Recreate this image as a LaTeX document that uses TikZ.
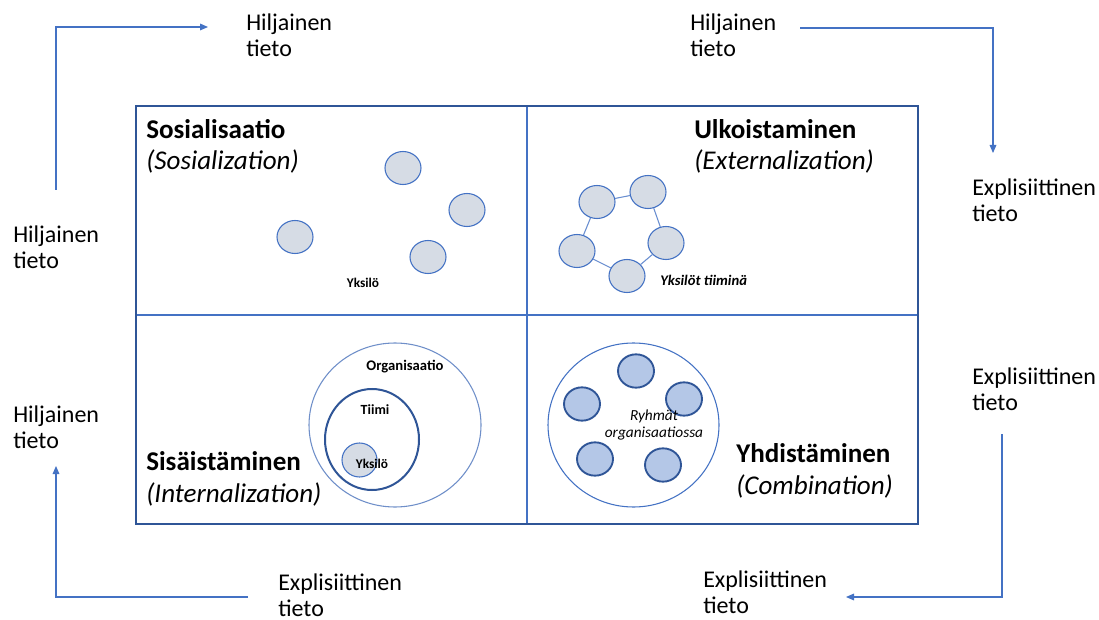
\documentclass[tikz,border=0pt]{standalone}
\usepackage{fontspec}
\setmainfont{Carlito}
\usetikzlibrary{arrows.meta,shapes.geometric}
\definecolor{frameblue}{HTML}{2F5597}
\definecolor{lineblue}{HTML}{4472C4}
\definecolor{paleline}{HTML}{6F8FC9}
\definecolor{greyfill}{HTML}{D6DCE5}
\definecolor{bluefill}{HTML}{B4C7E7}
\begin{document}
% two-line nodes are placed by the baseline of their last line
\begin{tikzpicture}[x=0.75pt,y=-0.75pt,
  flowlabel/.style={anchor=base west, align=left, inner sep=0pt,
    font=\fontsize{18}{19.5}\selectfont},
  quadtitle/.style={anchor=base west, align=left, inner sep=0pt,
    font=\fontsize{20.3}{23.5}\selectfont},
  flow/.style={draw=lineblue, line width=0.8pt,
    -{Triangle[length=6pt,width=5pt]}},
  person/.style={ellipse, draw=lineblue, line width=0.8pt, fill=greyfill,
    minimum width=27pt, minimum height=24.75pt, inner sep=0pt},
  group/.style={ellipse, draw=frameblue, line width=1.4pt, fill=bluefill,
    minimum width=27pt, minimum height=25pt, inner sep=0pt},
  tag/.style={inner sep=0pt, font=\fontsize{10}{12}\selectfont\bfseries},
  link/.style={draw=lineblue!80, line width=0.8pt},
]
\fill[white] (0,0) rectangle (1099,620);
\useasboundingbox (0,0) rectangle (1099,620);

% quadrant grid
\draw[lineblue, line width=1.1pt] (527,106) -- (527,524);
\draw[lineblue, line width=1.1pt] (136,315) -- (918,315);
\draw[frameblue, line width=1.5pt] (136,106) rectangle (918,524);

% flow labels around the grid
\node[flowlabel] (tacitTL) at (246,57) {Hiljainen\\tieto};
\node[flowlabel] (tacitTR) at (690,57) {Hiljainen\\tieto};
\node[flowlabel] (explR1) at (972,222) {Explisiittinen\\tieto};
\node[flowlabel] (explR2) at (972,410) {Explisiittinen\\tieto};
\node[flowlabel] (explBC) at (703,613) {Explisiittinen\\tieto};
\node[flowlabel] (explBL) at (278,616) {Explisiittinen\\tieto};
\node[flowlabel] (tacitL1) at (13,268) {Hiljainen\\tieto};
\node[flowlabel] (tacitL2) at (13,448) {Hiljainen\\tieto};

% flow arrows
\coordinate (tlA) at (56,190);   \coordinate (tlB) at (208,27);
\coordinate (trA) at (800,28);   \coordinate (trB) at (993,153);
\coordinate (brA) at (1002,434); \coordinate (brB) at (846,597);
\coordinate (blA) at (248,597);  \coordinate (blB) at (56,466);
\draw[flow] (tlA) |- (tlB);
\draw[flow] (trA) -| (trB);
\draw[flow] (brA) |- (brB);
\draw[flow] (blA) -| (blB);

% quadrant titles
\node[quadtitle] (socT) at (146,170) {\textbf{Sosialisaatio}\\\textit{(Sosialization)}};
\node[quadtitle] (extT) at (694,170) {\textbf{Ulkoistaminen}\\\textit{(Externalization)}};
\node[quadtitle] (intT) at (146,502) {\textbf{Sisäistäminen}\\\textit{(Internalization)}};
\node[quadtitle] (comT) at (736,494) {\textbf{Yhdistäminen}\\\textit{(Combination)}};

% socialization: separate individuals
\node[person] (s1) at (403,168) {};
\node[person] (s2) at (467,210) {};
\node[person] (s3) at (295,237) {};
\node[person] (s4) at (428,257) {};
\node[tag] (sLab) at (363,283) {Yksilö};

% externalization: individuals linked as a team
\node[person] (e1) at (597,202) {};
\node[person] (e2) at (648,192) {};
\node[person] (e3) at (577,251) {};
\node[person] (e4) at (666,243) {};
\node[person] (e5) at (627,276) {};
\draw[link] (e1) -- (e2);
\draw[link] (e2) -- (e4);
\draw[link] (e4) -- (e5);
\draw[link] (e5) -- (e3);
\draw[link] (e3) -- (e1);
\node[tag, anchor=west, font=\fontsize{11}{13}\selectfont\bfseries\itshape] (eLab) at (660,280) {Yksilöt tiiminä};

% internalization: nested organisation, team, individual
\node[ellipse, draw=paleline, line width=0.8pt, minimum width=129pt, minimum height=123pt, inner sep=0pt] (org) at (395,425) {};
\node[ellipse, draw=frameblue, line width=1.5pt, minimum width=70.5pt, minimum height=75.75pt, inner sep=0pt] (team) at (372,439.5) {};
\node[person, minimum width=26.25pt, minimum height=25.5pt] (self) at (359.5,460) {};
\node[tag, font=\fontsize{11}{13}\selectfont\bfseries] (orgLab) at (405,367) {Organisaatio};
\node[tag, font=\fontsize{10.5}{12}\selectfont\bfseries] (teamLab) at (375,410) {Tiimi};
\node[tag] (selfLab) at (372,464) {Yksilö};

% combination: groups inside the organisation
\node[ellipse, draw=lineblue, line width=0.8pt, minimum width=128.25pt, minimum height=123pt, inner sep=0pt] (orgC) at (633.5,425) {};
\node[group] (g1) at (636,371) {};
\node[group] (g2) at (684,399) {};
\node[group] (g3) at (582,404) {};
\node[group] (g4) at (595,459) {};
\node[group] (g5) at (663,465) {};
\node[inner sep=0pt, align=center, font=\fontsize{11.5}{13}\selectfont\itshape] (gLab) at (654,425) {Ryhmät\\organisaatiossa};
\end{tikzpicture}
\end{document}
